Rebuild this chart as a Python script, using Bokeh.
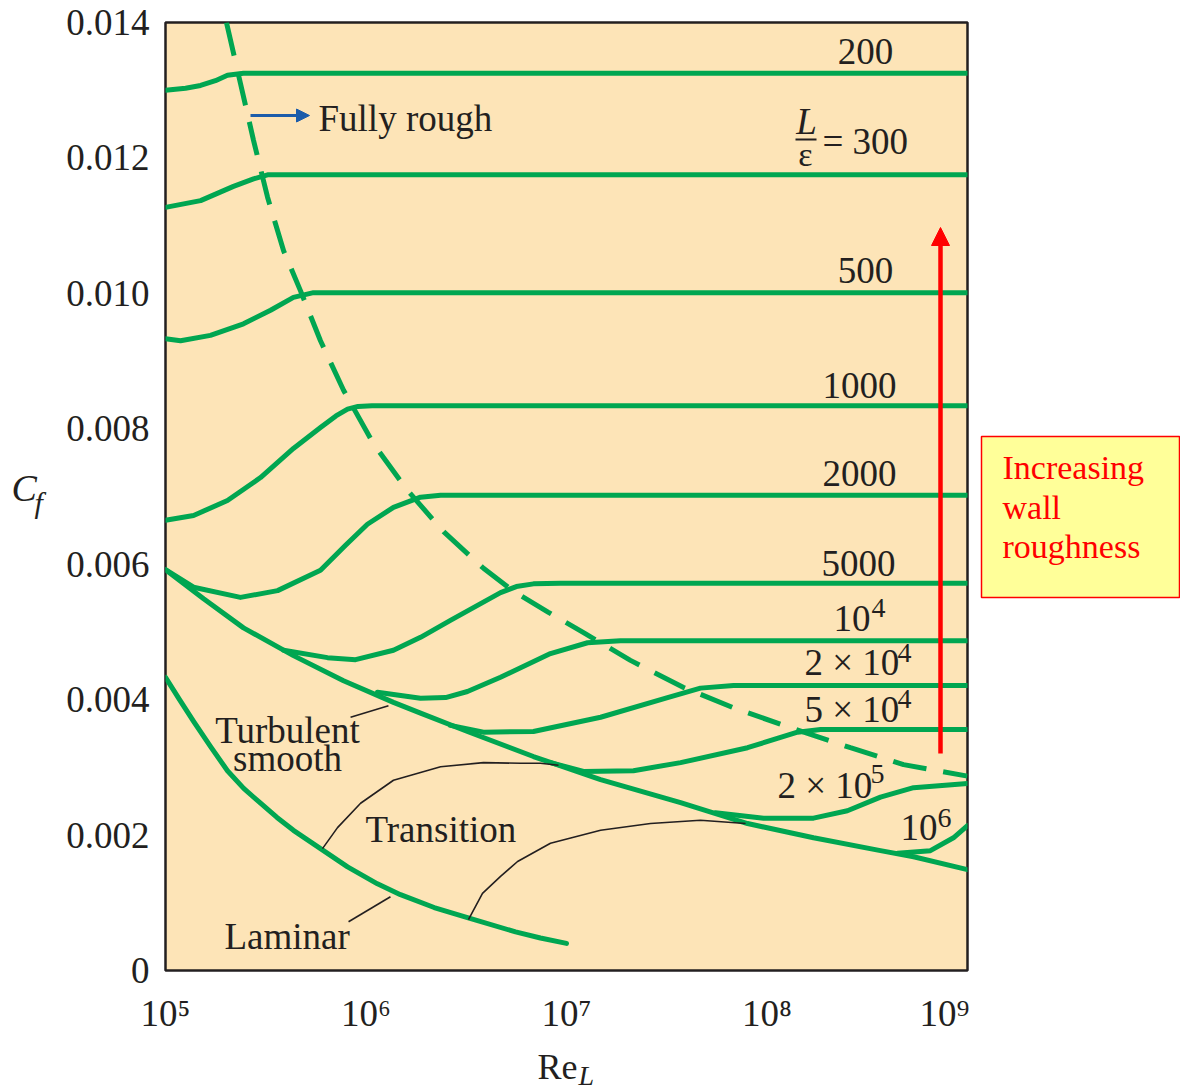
from bokeh.plotting import figure
from bokeh.layouts import row, column
from bokeh.models import (Label, Arrow, NormalHead, FixedTicker,
                          CustomJSTickFormatter, Range1d)
from bokeh.core.properties import value
from bokeh.embed import file_html
from bokeh.resources import INLINE

# ---------------- data: log10(Re_L) and C_f ----------------
smooth_logre = [5.000, 5.190, 5.389, 5.638, 5.888, 6.137, 6.272, 6.506, 6.835, 7.170,
                7.569, 7.903, 8.232, 8.566, 8.731, 9.000]
smooth_cf = [0.00592, 0.00549, 0.00506, 0.00465, 0.00428, 0.00396, 0.00380, 0.00353,
             0.00316, 0.00282, 0.00248, 0.00217, 0.00196, 0.00177, 0.00168, 0.00149]

laminar_logre = [5.000, 5.070, 5.140, 5.224, 5.309, 5.390, 5.474, 5.556, 5.638, 5.773,
                 5.908, 6.057, 6.172, 6.340, 6.506, 6.746, 6.870, 7.000]
laminar_cf = [0.00433, 0.00400, 0.00368, 0.00331, 0.00295, 0.00269, 0.00247, 0.00226,
              0.00207, 0.00180, 0.00153, 0.00128, 0.00112, 0.00093, 0.00078, 0.00057,
              0.00048, 0.00040]

trans_upper_logre = [5.783, 5.858, 5.973, 6.137, 6.372, 6.586, 6.771, 6.870, 6.960]
trans_upper_cf = [0.00180, 0.00211, 0.00247, 0.00281, 0.00301, 0.00307, 0.00306, 0.00306, 0.00303]

trans_lower_logre = [6.511, 6.581, 6.671, 6.756, 6.920, 7.170, 7.419, 7.668, 7.893]
trans_lower_cf = [0.00075, 0.00114, 0.00139, 0.00161, 0.00188, 0.00207, 0.00217, 0.00222, 0.00217]

rough_logre = [5.304, 5.374, 5.439, 5.509, 5.589, 5.673, 5.773, 5.888, 6.037, 6.207,
               6.387, 6.586, 6.736, 6.910, 7.085, 7.319, 7.584, 7.833, 8.132, 8.416,
               8.681, 9.000]
rough_cf = [0.01400, 0.01310, 0.01226, 0.01142, 0.01063, 0.01004, 0.00930, 0.00857,
            0.00778, 0.00709, 0.00648, 0.00594, 0.00560, 0.00529, 0.00499, 0.00458,
            0.00418, 0.00388, 0.00357, 0.00329, 0.00304, 0.00287]

# relative roughness curves  (L / epsilon)
r200_logre = [5.000, 5.100, 5.175, 5.249, 5.309, 5.389, 9.000]
r200_cf = [0.01300, 0.01303, 0.01307, 0.01314, 0.01322, 0.01325, 0.01325]

r300_logre = [5.000, 5.175, 5.339, 5.439, 5.509, 9.000]
r300_cf = [0.01127, 0.01137, 0.01158, 0.01169, 0.01175, 0.01175]

r500_logre = [5.000, 5.075, 5.224, 5.389, 5.524, 5.638, 5.738, 9.000]
r500_cf = [0.00933, 0.00930, 0.00938, 0.00955, 0.00975, 0.00994, 0.01001, 0.01001]

r1000_logre = [5.000, 5.140, 5.309, 5.474, 5.638, 5.773, 5.850, 5.908, 5.960, 6.030, 9.000]
r1000_cf = [0.00665, 0.00672, 0.00694, 0.00728, 0.00771, 0.00802, 0.00819, 0.00829,
            0.00833, 0.00834, 0.00834]

r2000_logre = [5.000, 5.140, 5.374, 5.559, 5.773, 5.898, 6.007, 6.137, 6.272, 6.372, 9.000]
r2000_cf = [0.00592, 0.00566, 0.00551, 0.00561, 0.00591, 0.00628, 0.00659, 0.00684,
            0.00699, 0.00702, 0.00702]

r5000_logre = [5.589, 5.808, 5.948, 6.137, 6.272, 6.421, 6.671, 6.750, 6.835, 6.970, 9.000]
r5000_cf = [0.00473, 0.00462, 0.00459, 0.00473, 0.00492, 0.00517, 0.00558, 0.00567,
            0.00571, 0.00572, 0.00572]

r1e4_logre = [6.057, 6.272, 6.397, 6.506, 6.671, 6.920, 7.105, 7.269, 9.000]
r1e4_cf = [0.00411, 0.00402, 0.00403, 0.00412, 0.00433, 0.00468, 0.00484, 0.00487, 0.00487]

r2e4_logre = [6.421, 6.586, 6.835, 7.170, 7.504, 7.668, 7.833, 9.000]
r2e4_cf = [0.00362, 0.00352, 0.00353, 0.00374, 0.00403, 0.00417, 0.00421, 0.00421]

r5e4_logre = [6.920, 7.085, 7.334, 7.569, 7.903, 8.152, 8.267, 9.000]
r5e4_cf = [0.00307, 0.00294, 0.00295, 0.00307, 0.00329, 0.00352, 0.00356, 0.00356]

r2e5_logre = [7.743, 7.983, 8.232, 8.401, 8.566, 8.731, 9.000]
r2e5_cf = [0.00233, 0.00225, 0.00225, 0.00236, 0.00256, 0.00270, 0.00276]

r1e6_logre = [8.651, 8.815, 8.930, 9.000]
r1e6_cf = [0.00173, 0.00177, 0.00196, 0.00214]

leader_turb_logre = [5.923, 6.112]
leader_turb_cf = [0.00374, 0.00391]
leader_lam_logre = [5.913, 6.122]
leader_lam_cf = [0.00072, 0.00109]

x_ticks = [1e5, 1e6, 1e7, 1e8, 1e9]
x_tick_labels = ["10\u2075", "10\u2076", "10\u2077", "10\u2078", "10\u2079"]
y_ticks = [0, 0.002, 0.004, 0.006, 0.008, 0.010, 0.012, 0.014]
y_tick_labels = ["0", "0.002", "0.004", "0.006", "0.008", "0.010", "0.012", "0.014"]

box_lines = ["Increasing", "wall", "roughness"]

# ---------------- styling ----------------
FONT = "Liberation Serif"
INK = "#231F20"
GREEN = "#00A651"
PEACH = "#FDE4B7"
BLUE = "#1C5CAA"

# layout in page pixels: left strip 0..60, main 60..969, right strip 969..1180
LEFT_W = 60
MAIN_LEFT_BORDER = 105          # frame starts at 60 + 105 = 165
FRAME_W, FRAME_H = 802, 948
TOP_BORDER, BOTTOM_BORDER = 22, 70
FRAME_TOP, FRAME_BOTTOM = TOP_BORDER, TOP_BORDER + FRAME_H      # 22 .. 970
TOP_H = TOP_BORDER + FRAME_H + BOTTOM_BORDER    # 1040
RIGHT_X0 = LEFT_W + MAIN_LEFT_BORDER + FRAME_W + 2   # 969
RIGHT_W = 211
BOTTOM_H = 51


def X(lst):
    return [10 ** v for v in lst]


# reference pixel position -> data coordinates of the main chart (frame 165..967 x 22..970)
def px_x(px):
    return 10 ** (5 + (px - 165) / 200.5)


def px_y(py):
    return (970 - py) * 0.014 / 948


def ymid(baseline, size):
    return baseline - 0.33 * size


p = figure(x_axis_type="log", x_range=Range1d(1e5, 1e9), y_range=Range1d(0, 0.014),
           frame_width=FRAME_W, frame_height=FRAME_H,
           min_border_left=MAIN_LEFT_BORDER, min_border_right=2,
           min_border_top=TOP_BORDER, min_border_bottom=BOTTOM_BORDER,
           output_backend="svg", toolbar_location=None,
           background_fill_color=PEACH, border_fill_color="white")
p.grid.visible = False
p.outline_line_color = INK
p.outline_line_width = 2.5

p.xaxis.ticker = FixedTicker(ticks=x_ticks)
p.xaxis.formatter = CustomJSTickFormatter(args=dict(tv=x_ticks, labs=x_tick_labels), code="""
const i = tv.findIndex(t => Math.abs(t - tick) <= 1e-6 * Math.abs(t));
return i >= 0 ? labs[i] : "";
""")
p.yaxis.ticker = FixedTicker(ticks=y_ticks)
p.yaxis.formatter = CustomJSTickFormatter(args=dict(tv=y_ticks, labs=y_tick_labels), code="""
const i = tv.findIndex(t => Math.abs(t - tick) <= 1e-9);
return i >= 0 ? labs[i] : "";
""")
for ax in (p.xaxis, p.yaxis):
    ax.axis_line_color = None
    ax.major_tick_line_color = None
    ax.minor_tick_line_color = None
    ax.major_label_text_font = FONT
    ax.major_label_text_font_size = "37px"
    ax.major_label_text_color = INK
p.xaxis.major_label_standoff = 16
p.yaxis.major_label_standoff = 10

# ---------------- curves ----------------
curves = [
    (r200_logre, r200_cf), (r300_logre, r300_cf), (r500_logre, r500_cf),
    (r1000_logre, r1000_cf), (r2000_logre, r2000_cf), (r5000_logre, r5000_cf),
    (r1e4_logre, r1e4_cf), (r2e4_logre, r2e4_cf), (r5e4_logre, r5e4_cf),
    (r2e5_logre, r2e5_cf), (r1e6_logre, r1e6_cf),
    (smooth_logre, smooth_cf), (laminar_logre, laminar_cf),
]
for lx, cf in curves:
    p.line(X(lx), cf, line_color=GREEN, line_width=5, line_join="round", line_cap="round")

p.line(X(rough_logre), rough_cf, line_color=GREEN, line_width=5, line_dash="34 17")

for lx, cf in [(trans_upper_logre, trans_upper_cf), (trans_lower_logre, trans_lower_cf),
               (leader_turb_logre, leader_turb_cf), (leader_lam_logre, leader_lam_cf)]:
    p.line(X(lx), cf, line_color=INK, line_width=1.6)

# fraction bar of L/eps
p.segment(x0=[px_x(795)], y0=[px_y(139)], x1=[px_x(816)], y1=[px_y(139)],
          line_color=INK, line_width=2)

# ---------------- arrows ----------------
p.add_layout(Arrow(end=NormalHead(size=13, fill_color=BLUE, line_color=BLUE),
                   x_start=px_x(250), y_start=px_y(115), x_end=px_x(309), y_end=px_y(115),
                   line_color=BLUE, line_width=3))
p.add_layout(Arrow(end=NormalHead(size=18, fill_color="red", line_color="red"),
                   x_start=px_x(940), y_start=px_y(753), x_end=px_x(940), y_end=px_y(227),
                   line_color="red", line_width=4.5))


def lab(text, px, baseline, size=37, align="left", color=INK, style="normal"):
    p.add_layout(Label(x=px_x(px), y=px_y(ymid(baseline, size)), text=text, text_font=FONT,
                       text_font_size=f"{size}px", text_align=align, text_baseline="middle",
                       text_color=color, text_font_style=style))


# curve labels
for t, cx, by in [("200", 865, 63), ("500", 865, 282), ("1000", 859, 397),
                  ("2000", 859, 485), ("5000", 858, 575)]:
    lab(t, cx, by, align="center")

lab("L", 806, 133, align="center", style="italic")
lab("\u03b5", 805, 165, size=34, align="center")
lab("= 300", 822, 153)

for base, bx, bby, sup, sx, sby in [("10", 833, 630, "4", 871, 617),
                                     ("2 \u00d7 10", 804, 674, "4", 897, 662),
                                     ("5 \u00d7 10", 804, 721, "4", 897, 708),
                                     ("2 \u00d7 10", 777, 797, "5", 870, 783),
                                     ("10", 900, 839, "6", 937, 827)]:
    lab(base, bx, bby)
    lab(sup, sx, sby, size=28)

lab("Fully rough", 318, 130)
lab("Turbulent", 287, 742, align="center")
lab("smooth", 287, 770, align="center")
lab("Transition", 365, 841)
lab("Laminar", 224, 948)


# ---------------- side strips (page-pixel coordinates) ----------------
def strip(x0, w, y0, y1, h, top=0, bottom=0):
    f = figure(width=w, height=h, x_range=Range1d(x0, x0 + w), y_range=Range1d(y1, y0),
               min_border_left=0, min_border_right=0,
               min_border_top=top, min_border_bottom=bottom,
               x_axis_location=None, y_axis_location=None,
               outline_line_color=None, toolbar_location=None, output_backend="svg",
               background_fill_color="white", border_fill_color="white")
    f.grid.visible = False
    return f


def txt(f, s, x, baseline, size=37, color=INK, style="normal", align="left"):
    f.text(x=[x], y=[ymid(baseline, size)], text=[s], text_font=value(FONT),
           text_font_size=f"{size}px", text_color=color, text_font_style=style,
           text_align=align, text_baseline="middle")


# strips beside the chart share the chart's frame rows (22..970)
pl = strip(0, LEFT_W, FRAME_TOP, FRAME_BOTTOM, TOP_H, TOP_BORDER, BOTTOM_BORDER)
txt(pl, "C", 11, 500, size=38, style="italic")
txt(pl, "f", 34, 512, size=30, style="italic")

pr = strip(RIGHT_X0, RIGHT_W, FRAME_TOP, FRAME_BOTTOM, TOP_H, TOP_BORDER, BOTTOM_BORDER)
pr.quad(left=[981], right=[1179], top=[436], bottom=[597],
        fill_color="#FFFF99", line_color="red", line_width=1.5)
for t, by in zip(box_lines, [478, 518, 557]):
    txt(pr, t, 1002, by, size=34, color="red")

pb = strip(0, LEFT_W + MAIN_LEFT_BORDER + FRAME_W + 2 + RIGHT_W,
           TOP_H, TOP_H + BOTTOM_H, BOTTOM_H)
txt(pb, "Re", 537, 1078, size=36)
txt(pb, "L", 578, 1084, size=28, style="italic")

layout = column(row(pl, p, pr), pb)
open("out.html", "w").write(file_html(layout, INLINE))
